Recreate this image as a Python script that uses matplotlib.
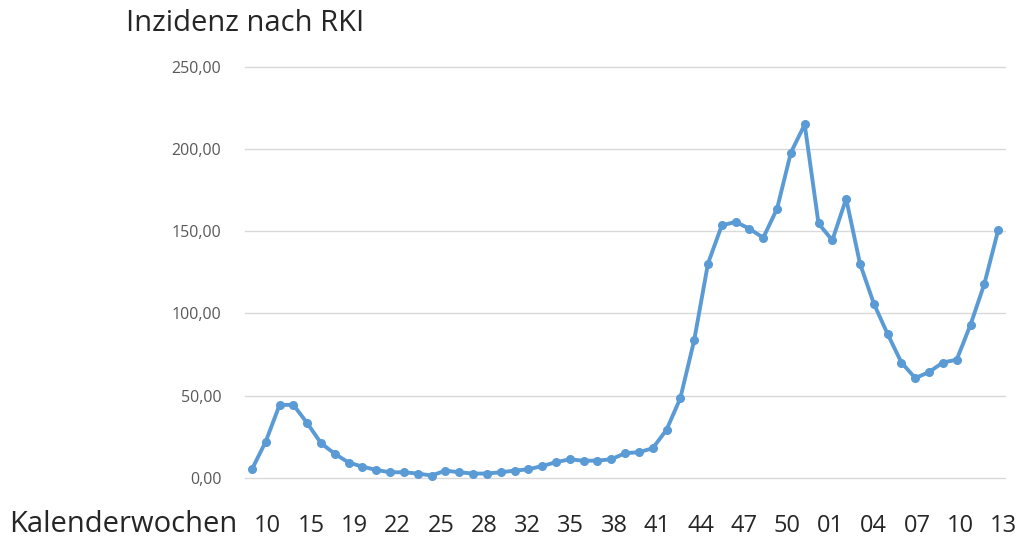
import numpy as np
import matplotlib
matplotlib.use("Agg")
import matplotlib.pyplot as plt

plt.rcParams["font.family"] = ["Open Sans", "DejaVu Sans"]

# Wöchentliche Inzidenz (55 Kalenderwochen)
inzidenz = [
    5.1, 22.0, 44.3, 44.3, 33.2, 21.0, 14.5, 9.2, 6.7, 4.7,
    3.3, 3.3, 2.5, 1.3, 4.3, 3.3, 2.5, 2.5, 3.3, 4.3,
    5.1, 7.1, 9.4, 11.2, 10.3, 10.4, 11.2, 14.9, 15.5, 17.9,
    29.1, 48.4, 83.5, 130.3, 153.5, 155.7, 151.5, 146.0, 163.7, 197.8,
    215.0, 154.7, 144.5, 169.8, 130.3, 106.0, 87.4, 70.1, 60.6, 64.3,
    70.1, 71.8, 93.1, 117.9, 150.6,
]
kw_labels = ["10", "15", "19", "22", "25", "28", "32", "35", "38", "41",
             "44", "47", "50", "01", "04", "07", "10", "13"]
y_ticks = [0, 50, 100, 150, 200, 250]

x = np.arange(1, len(inzidenz) + 1)

fig = plt.figure(figsize=(10.18, 5.4), dpi=100)
ax = fig.add_axes([0.2407, 0.1154, 0.7466, 0.7607])

ax.plot(x, inzidenz, color="#5B9BD5", lw=2.8, marker="o", ms=5.5,
        clip_on=False, zorder=3)

ax.set_xlim(0.5, len(inzidenz) + 0.5)
ax.set_ylim(0, 250)
ax.set_yticks(y_ticks)
ax.set_yticklabels([f"{v},00" for v in y_ticks], color="#595959", fontsize=11.5)
ax.grid(axis="y", color="#D9D9D9", lw=1)
for gl in ax.get_ygridlines():
    gl.set_clip_on(False)
ax.set_axisbelow(True)
ax.tick_params(axis="y", length=0, pad=17)

# Kalenderwochen-Beschriftung (ungleich verteilt wie im Original)
ax.set_xticks(np.linspace(2.14, 55.4, len(kw_labels)))
ax.set_xticklabels(kw_labels, fontsize=17, color="#262626")
ax.tick_params(axis="x", length=0, pad=26)

for s in ax.spines.values():
    s.set_visible(False)

fig.text(0.124, 0.957, "Inzidenz nach RKI", fontsize=21, color="#262626",
         va="center", ha="left")
fig.text(0.009, 0.028, "Kalenderwochen", fontsize=21, color="#262626",
         va="center", ha="left")

fig.savefig("out.png", dpi=100)
